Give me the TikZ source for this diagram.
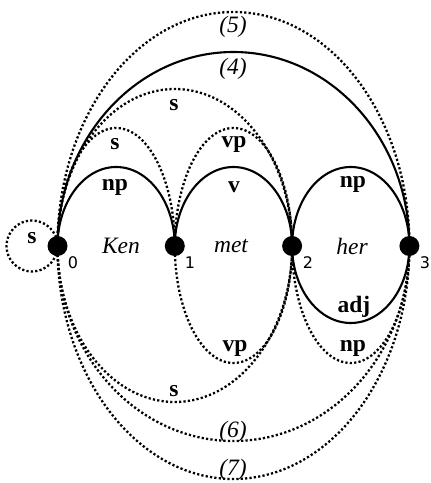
\documentclass[tikz,border=0pt]{standalone}
\usepackage{fontspec}
\setmainfont{Liberation Serif}
\newfontfamily\numfont{DejaVu Sans}
\begin{document}
\begin{tikzpicture}[x=1pt,y=1pt,
  solidarc/.style={line width=2.1pt},
  dotarc/.style={line width=2.3pt, dash pattern=on 2.2pt off 2.2pt},
  vtx/.style={circle, fill=black, inner sep=0pt, minimum size=20pt},
  cat/.style={font=\fontsize{23.5}{23.5}\selectfont\bfseries, inner sep=0pt},
  word/.style={font=\fontsize{23.5}{23.5}\selectfont\itshape, inner sep=0pt},
  idx/.style={font=\numfont\fontsize{16}{16}\selectfont, inner sep=0pt},
]
\useasboundingbox (0,0) rectangle (431,483);
\fill[white] (0,0) rectangle (431,483);
\coordinate (p0) at (57.5,237);
\coordinate (p1) at (174.8,237);
\coordinate (p2) at (292.1,237);
\coordinate (p3) at (409.4,237);
% short arcs
\draw[solidarc] (p0) arc[start angle=180, end angle=0, x radius=58.65, y radius=79];
\draw[solidarc] (p1) arc[start angle=180, end angle=0, x radius=58.65, y radius=79];
\draw[solidarc] (p2) arc[start angle=180, end angle=0, x radius=58.65, y radius=79];
\draw[solidarc] (p2) arc[start angle=180, end angle=360, x radius=58.65, y radius=77];
\draw[dotarc] (p0) arc[start angle=180, end angle=0, x radius=58.65, y radius=118];
\draw[dotarc] (p1) arc[start angle=180, end angle=0, x radius=58.65, y radius=118];
\draw[dotarc] (p1) arc[start angle=180, end angle=360, x radius=58.65, y radius=117];
\draw[dotarc] (p2) arc[start angle=180, end angle=360, x radius=58.65, y radius=117];
% two-span arcs
\draw[dotarc] (p0) arc[start angle=180, end angle=0, x radius=117.3, y radius=157];
\draw[dotarc] (p0) arc[start angle=180, end angle=360, x radius=117.3, y radius=156];
% three-span arcs
\draw[solidarc] (p0) arc[start angle=180, end angle=0, x radius=175.95, y radius=194];
\draw[dotarc] (p0) arc[start angle=180, end angle=0, x radius=175.95, y radius=234];
\draw[dotarc] (p0) arc[start angle=180, end angle=360, x radius=175.95, y radius=195];
\draw[dotarc] (p0) arc[start angle=180, end angle=360, x radius=175.95, y radius=233];
% loop
\draw[dotarc] (p0) arc[start angle=0, end angle=360, radius=25.5];
% vertices
\node[vtx] (n0) at (p0) {};
\node[vtx] (n1) at (p1) {};
\node[vtx] (n2) at (p2) {};
\node[vtx] (n3) at (p3) {};
\node[idx] (i0) at (73,220) {0};
\node[idx] (i1) at (190,220) {1};
\node[idx] (i2) at (308,220) {2};
\node[idx] (i3) at (425,220) {3};
% words
\node[word] (w0) at (121,237) {Ken};
\node[word] (w1) at (231,237) {met};
\node[word] (w2) at (352,237) {her};
% labels
\node[cat] (l5) at (233,456) {\mdseries\itshape (5)};
\node[cat] (l4) at (233,414) {\mdseries\itshape (4)};
\node[cat] (ls2) at (174,378) {s};
\node[cat] (ls1) at (115,339) {s};
\node[cat] (lvp) at (234,339) {vp};
\node[cat] (lnp1) at (115,296) {np};
\node[cat] (lv) at (234,296) {v};
\node[cat] (lnp2) at (353,299) {np};
\node[cat] (lloop) at (32,245) {s};
\node[cat] (ladj) at (354,176) {adj};
\node[cat] (lvpb) at (235,135) {vp};
\node[cat] (lnpb) at (353,135) {np};
\node[cat] (lsb) at (174,92) {s};
\node[cat] (l6) at (233,51) {\mdseries\itshape (6)};
\node[cat] (l7) at (233,13) {\mdseries\itshape (7)};
\end{tikzpicture}
\end{document}
